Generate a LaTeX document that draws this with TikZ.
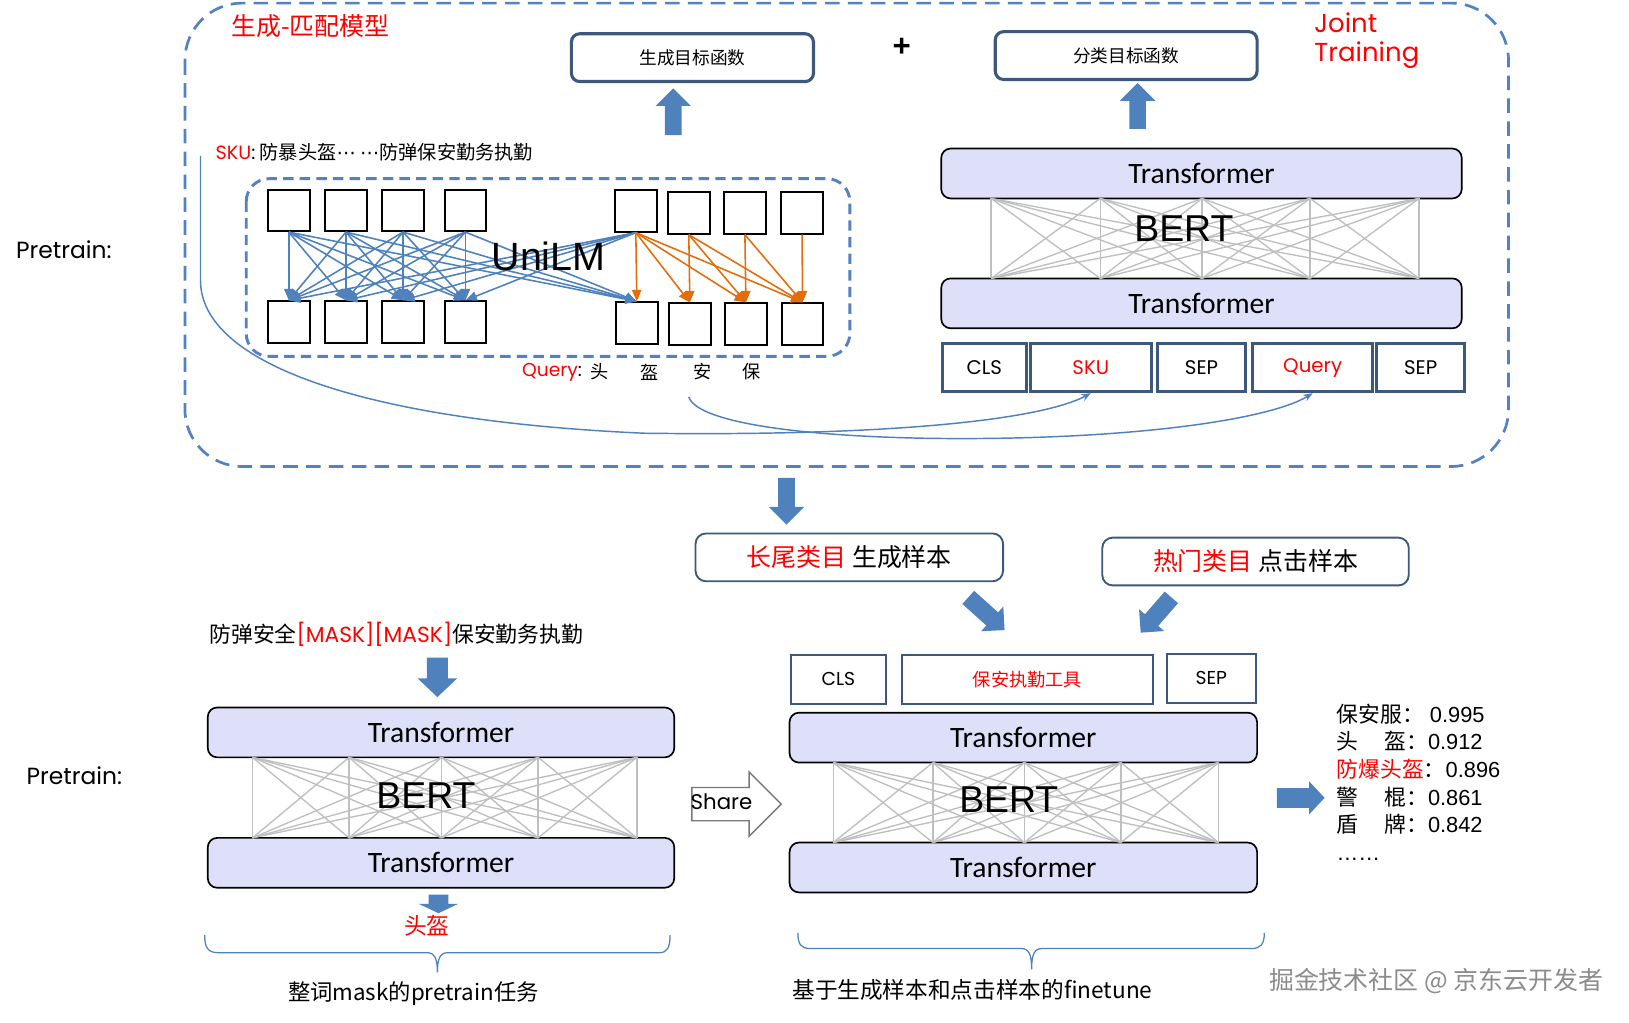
\documentclass[tikz,border=0pt]{standalone}
\usepackage{fontspec}
\setmainfont{Liberation Sans}
\newfontfamily\cjk{Noto Sans CJK SC}
\newfontfamily\geo{Poppins}
\newfontfamily\calf{Carlito}
\newfontfamily\arf{Liberation Sans}
\newfontfamily\dvs{DejaVu Sans}
\usetikzlibrary{arrows.meta}
\newcommand\fsz[1]{\fontsize{#1}{#1}\selectfont}
\definecolor{ablue}{RGB}{79,129,189}
\definecolor{dblue}{RGB}{84,130,190}
\definecolor{bordc}{RGB}{62,88,124}
\definecolor{lav}{RGB}{221,224,248}
\definecolor{orng}{RGB}{228,108,10}
\definecolor{gridc}{RGB}{191,191,191}
\definecolor{wm}{RGB}{140,140,140}
\definecolor{shgray}{RGB}{120,120,120}
% block arrow: tail, angle, length, shaft half, head half, head length
\newcommand\barr[6]{\fill[ablue,shift={#1},rotate=#2] (0,-#4) -- ({#3-#6},-#4) -- ({#3-#6},-#5) -- (#3,0) -- ({#3-#6},#5) -- ({#3-#6},#4) -- (0,#4) -- cycle;}
\tikzset{
 trans/.style={draw=black, line width=1.6pt, fill=lav, rounded corners=9pt, inner sep=0pt, font=\calf\fsz{28.5}},
 tok/.style={draw=bordc, line width=3pt, inner sep=0pt, minimum height=46pt, font=\geo\fsz{19}},
 tokb/.style={draw=bordc, line width=1.8pt, inner sep=0pt, minimum height=47pt, font=\geo\fsz{18}},
 obj/.style={draw=bordc, line width=3pt, rounded corners=8pt, inner sep=0pt, minimum height=46pt, font=\cjk\fsz{17}},
 samp/.style={draw=bordc, line width=1.8pt, rounded corners=10pt, inner sep=0pt, minimum height=46pt, font=\cjk\fsz{24}},
 sq/.style={draw=black, line width=1.8pt, minimum width=40pt, minimum height=40pt, inner sep=0pt},
 gl/.style={gridc, line width=1.3pt},
 bl/.style={ablue, line width=1.5pt, -{Triangle[length=11pt,width=9pt]}},
 ol/.style={orng, line width=1.5pt, -{Triangle[length=11pt,width=9pt]}},
 cv/.style={ablue, line width=1.4pt, -{Stealth[length=9pt,width=7pt]}},
 brc/.style={ablue, line width=1.2pt},
 dashbox/.style={dblue, line width=2.6pt, dash pattern=on 14pt off 8pt},
 dashin/.style={dblue, line width=2.8pt, dash pattern=on 10pt off 6pt},
 bert/.style={font=\arf\fsz{36}},
}
\begin{document}
\begin{tikzpicture}[x=1pt,y=-1pt]
\useasboundingbox (0,0) rectangle (1568,984);
\fill[white] (0,0) rectangle (1568,984);

% ---------- top section ----------
\draw[dashbox, rounded corners=55pt] (178,3) rectangle (1452,449);
\node[font=\cjk\fsz{24}, text=red, anchor=west] (title) at (219,25) {生成-匹配模型};
\node[obj, minimum width=233pt] (genobj) at (666.5,55.5) {生成目标函数};
\node[obj, minimum width=252pt] (clsobj) at (1084,53.5) {分类目标函数};
\node[font=\arf\bfseries\fsz{30}] (plus) at (868,46) {+};
\node[font=\geo\fontsize{25}{28}\selectfont, text=red, anchor=north west, align=left, inner sep=0pt] (jt) at (1265,12) {Joint\\Training};
\barr{(648,130)}{90}{45}{8}{17}{17}
\barr{(1095,124)}{90}{44}{8}{17}{17}

\node[anchor=west, font=\cjk\fsz{18.5}] (skul) at (204,146) {{\geo{\color{red}SKU}:} 防暴头盔{\dvs ⋯} {\dvs ⋯}防弹保安勤务执勤};
\node[anchor=west, font=\geo\fsz{22.5}] (pt1) at (12,240) {Pretrain:};

% UniLM block
\draw[dashin, rounded corners=22pt] (237,172) rectangle (818,343);
\foreach \i/\x in {1/278,2/333,3/388,4/448} {
  \node[sq] (tl\i) at (\x,202.5) {};
  \node[sq] (bl\i) at (\x,310) {};
}
\node[sq] (tr1) at (612,203) {};
\node[sq] (tr2) at (663,205) {};
\node[sq] (tr3) at (717,205) {};
\node[sq] (tr4) at (772,205) {};
\node[sq] (br1) at (613,311) {};
\node[sq] (br2) at (664,312) {};
\node[sq] (br3) at (718,312) {};
\node[sq] (br4) at (772.5,312) {};
\foreach \i in {1,...,4} {
  \foreach \j in {1,...,4} { \draw[bl] (tl\i.south) -- (bl\j.north); }
  \draw[bl] (tl\i.south) -- (br1.north);
  \draw[bl] (tr1.south) -- (bl\i.north);
}
\foreach \i in {1,...,4} {
  \foreach \j in {\i,...,4} { \draw[ol] (tr\i.south) -- (br\j.north); }
}
\node[font=\arf\fsz{38}] (unilm) at (528,247) {UniLM};

\node[anchor=west, font=\geo\fsz{18}] (ql) at (499,358) {{\color{red}Query}:};
\node[font=\cjk\fsz{17.5}] (q1) at (577.5,358) {头};
\node[font=\cjk\fsz{17.5}] (q2) at (625,358) {盔};
\node[font=\cjk\fsz{17.5}] (q3) at (676,358) {安};
\node[font=\cjk\fsz{17.5}] (q4) at (723.5,358) {保};

% BERT top-right
\node[trans, minimum width=501pt, minimum height=48pt] (t1a) at (1156.5,167) {Transformer};
\node[trans, minimum width=501pt, minimum height=48pt] (t1b) at (1156.5,292) {Transformer};
\foreach \i/\x in {1/954,2/1059,3/1157,4/1261,5/1366} {
  \coordinate (ga\i) at (\x,191);
  \coordinate (gb\i) at (\x,268);
}
\foreach \i in {1,...,5} { \foreach \j in {1,...,5} { \draw[gl] (ga\i) -- (gb\j); } }
\node[bert] (bert1) at (1139.5,220) {BERT};

\node[tok, minimum width=81pt] (cls1) at (947.5,354) {CLS};
\node[tok, minimum width=116pt, text=red] (sku) at (1050,354) {SKU};
\node[tok, minimum width=85pt] (sep1) at (1156.5,354) {SEP};
\node[tok, minimum width=115pt, text=red] (qtok) at (1263.5,354) {Query};
\node[tok, minimum width=85pt] (sep2) at (1367.5,354) {SEP};

\coordinate (c1s) at (193,150);
\coordinate (c2s) at (663,382);
\draw[cv] (c1s) -- (193,270) .. controls (193,350) and (350,405) .. (620,417) .. controls (850,420) and (1000,405) .. (sku.south);
\draw[cv] (c2s) .. controls (670,405) and (760,420) .. (900,422) .. controls (1080,424) and (1220,405) .. (qtok.south);

% ---------- middle ----------
\barr{(757,460)}{-90}{45}{8}{17}{17}
\node[samp, minimum width=296pt] (s1) at (817.5,536.5) {{\color{red}长尾类目} 生成样本};
\node[samp, minimum width=295pt] (s2) at (1208.5,540.5) {{\color{red}热门类目} 点击样本};
\barr{(932,575)}{-42}{47}{8.5}{16}{16}
\barr{(1127.5,575)}{-131}{45}{8.5}{16}{16}

% ---------- bottom left ----------
\node[anchor=west, font=\cjk\fsz{21}] (mask) at (198,611) {防弹安全{\geo\color{red}[MASK][MASK]}保安勤务执勤};
\barr{(421,633)}{-90}{38}{10}{19}{18}
\node[anchor=west, font=\geo\fsz{22.5}] (pt2) at (22,747) {Pretrain:};
\node[trans, minimum width=449pt, minimum height=48pt] (t2a) at (424.5,705) {Transformer};
\node[trans, minimum width=449pt, minimum height=48pt] (t2b) at (424.5,830.5) {Transformer};
\foreach \i/\x in {1/243,2/336,3/425,4/518,5/613} {
  \coordinate (ha\i) at (\x,729);
  \coordinate (hb\i) at (\x,806.5);
}
\foreach \i in {1,...,5} { \foreach \j in {1,...,5} { \draw[gl] (ha\i) -- (hb\j); } }
\node[bert] (bert2) at (410,766) {BERT};
\barr{(422,861)}{-90}{18}{9.5}{19}{9}
\node[font=\cjk\fsz{22}, text=red] (tk) at (411,891) {头盔};
\draw[brc] (197,900) .. controls (197,912) and (200,917) .. (210,917) -- (411,917) .. controls (418,917) and (421,922) .. (421,936) .. controls (421,922) and (424,917) .. (431,917) -- (635,917) .. controls (642,917) and (645,912) .. (645,900);
\node[font=\cjk\fsz{21.5}] (lab1) at (398,956) {整词mask的pretrain任务};

% Share arrow
\draw[shgray, line width=1.4pt, fill=white] (666,758) -- (721,758) -- (721,743) -- (752,774) -- (721,805) -- (721,790) -- (666,790) -- cycle;
\node[font=\geo\fsz{20.5}] (share) at (694.5,772) {Share};

% ---------- bottom right ----------
\node[tokb, minimum width=92pt] (cls2) at (807,654) {CLS};
\node[tokb, minimum width=242pt, font=\cjk\fsz{17.5}, text=red] (bz) at (989,654) {保安执勤工具};
\node[tokb, minimum width=86pt] (sep3) at (1166,653) {SEP};
\node[trans, minimum width=450pt, minimum height=48pt] (t3a) at (985,710) {Transformer};
\node[trans, minimum width=450pt, minimum height=48pt] (t3b) at (985,835) {Transformer};
\foreach \i/\x in {1/802,2/898,3/986,4/1079,5/1173} {
  \coordinate (ka\i) at (\x,734);
  \coordinate (kb\i) at (\x,811);
}
\foreach \i in {1,...,5} { \foreach \j in {1,...,5} { \draw[gl] (ka\i) -- (kb\j); } }
\node[bert] (bert3) at (971,770) {BERT};
\draw[brc] (768,898) .. controls (768,909) and (771,913) .. (780,913) -- (983,913) .. controls (990,913) and (993,918) .. (993,933) .. controls (993,918) and (996,913) .. (1003,913) -- (1205,913) .. controls (1213,913) and (1217,909) .. (1217,898);
\node[font=\cjk\fsz{21.8}] (lab2) at (936,953) {基于生成样本和点击样本的finetune};

\barr{(1229,768)}{0}{46}{9.5}{16}{15}
\node[anchor=west, font=\cjk\fsz{21}] (r1) at (1283,687) {保安服：{\arf\ 0.995}};
\node[anchor=west, font=\cjk\fsz{21}] (r2) at (1283,713) {头\hspace{25pt}盔：{\arf 0.912}};
\node[anchor=west, font=\cjk\fsz{21}] (r3) at (1283,740) {{\color{red}防爆头盔}：{\arf 0.896}};
\node[anchor=west, font=\cjk\fsz{21}] (r4) at (1283,767) {警\hspace{25pt}棍：{\arf 0.861}};
\node[anchor=west, font=\cjk\fsz{21}] (r5) at (1283,793) {盾\hspace{25pt}牌：{\arf 0.842}};
\node[anchor=base west, font=\arf\fsz{21}] (r6) at (1283,828) {……};

\node[font=\cjk\fsz{24}, text=wm, anchor=west] (wmk) at (1218,944) {掘金技术社区 @ 京东云开发者};
\end{tikzpicture}
\end{document}
